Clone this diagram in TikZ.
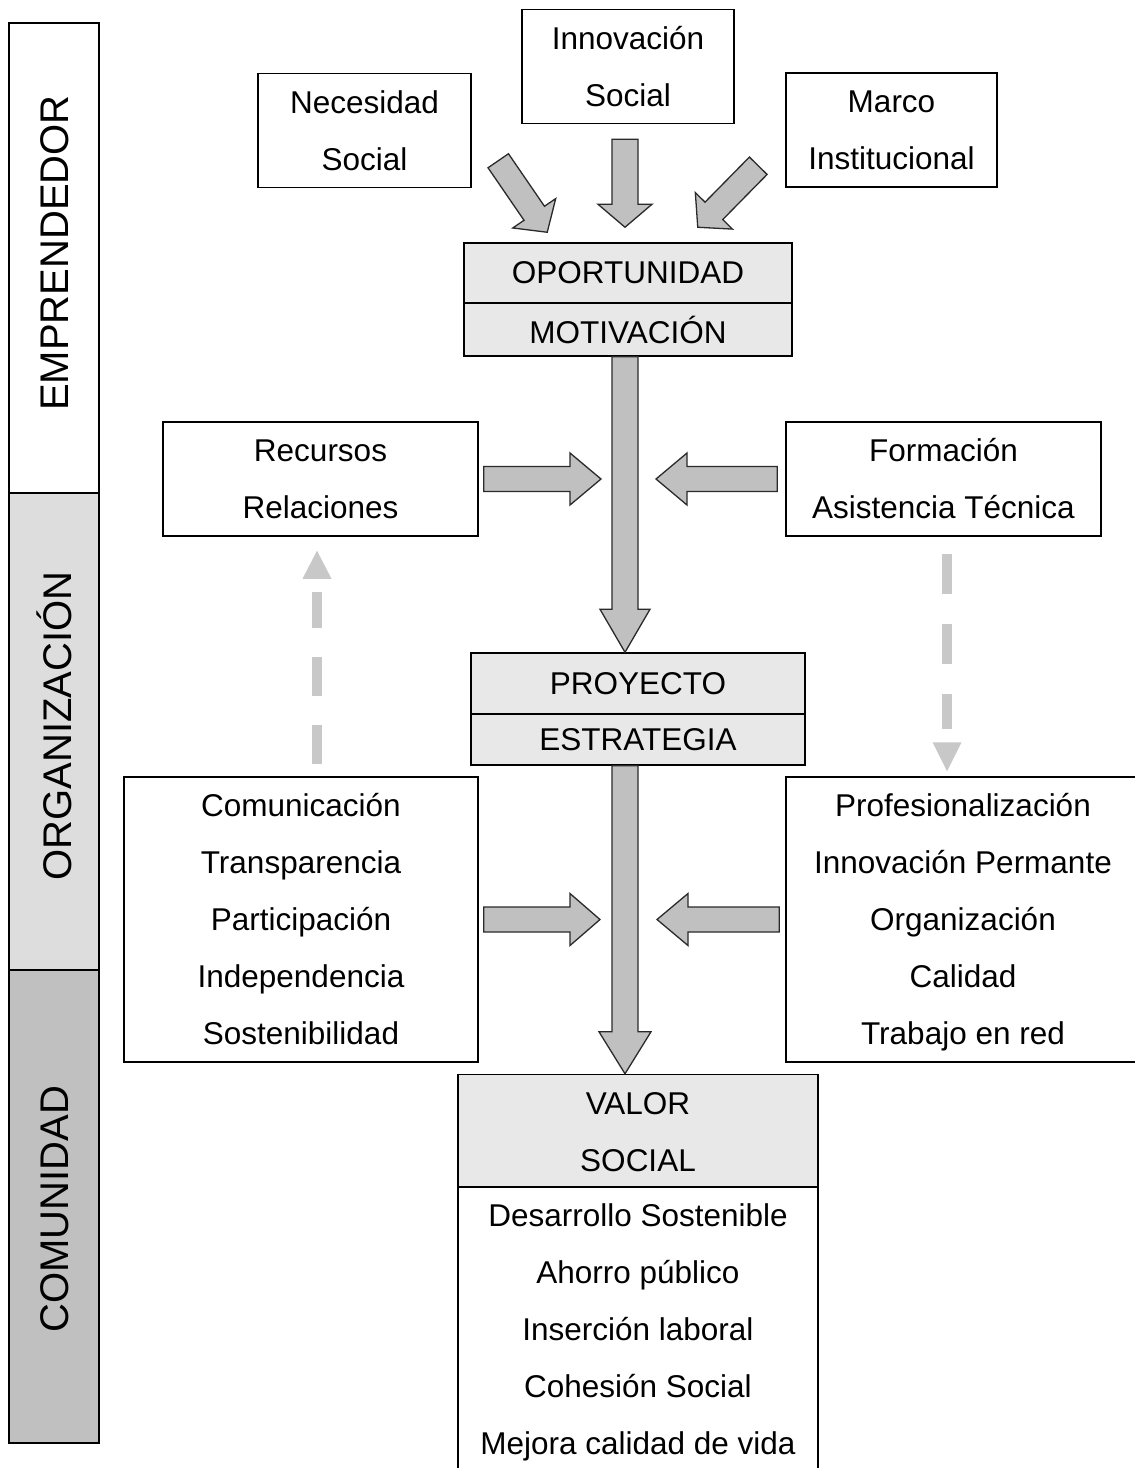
\documentclass[tikz,border=0pt]{standalone}
\usepackage{fontspec}
\setmainfont{Liberation Sans}
\usetikzlibrary{calc}

\definecolor{arrowfill}{HTML}{C0C0C0}
\definecolor{arrowline}{HTML}{2A2A2A}
\definecolor{headfill}{HTML}{E8E8E8}
\definecolor{orgfill}{HTML}{DDDDDD}
\definecolor{comfill}{HTML}{C0C0C0}
\definecolor{dashgray}{HTML}{C8C8C8}

% block arrow: #1 tail, #2 tip, #3 half shaft width, #4 half head width, #5 head length
\newcommand\blockarrow[5]{%
  \coordinate (ba-h) at ($(#2)!#5!(#1)$);
  \draw[barrow] ($(#1)!#3!90:(#2)$) -- ($(ba-h)!#3!90:(#2)$) -- ($(ba-h)!#4!90:(#2)$)
    -- (#2) -- ($(ba-h)!#4!-90:(#2)$) -- ($(ba-h)!#3!-90:(#2)$) -- ($(#1)!#3!-90:(#2)$) -- cycle;}

\tikzset{
  box/.style={draw=black, line width=1.5pt, inner sep=0pt, align=center, fill=white,
    font=\fontsize{31.5}{57}\selectfont},
  hdr/.style={box, fill=headfill},
  band/.style={draw=black, line width=1.5pt, inner sep=0pt},
  bandlabel/.style={rotate=90, inner sep=0pt, font=\fontsize{40}{48}\selectfont},
  barrow/.style={fill=arrowfill, draw=arrowline, line width=1.3pt, line join=miter},
  dashline/.style={draw=dashgray, line width=10pt},
}

\begin{document}
\begin{tikzpicture}[x=1pt, y=-1pt]
\clip (0,0) rectangle (1135,1468);
\fill[white] (0,0) rectangle (1135,1468);

% side bands
\node[band, fill=white,   minimum width=90, minimum height=470] (bemp) at (54,258) {};
\node[band, fill=orgfill, minimum width=90, minimum height=477] (borg) at (54,731.5) {};
\node[band, fill=comfill, minimum width=90, minimum height=473] (bcom) at (54,1206.5) {};
\node[bandlabel] (lemp) at (54.5,253) {EMPRENDEDOR};
\node[bandlabel] (lorg) at (54.5,726) {ORGANIZACIÓN};
\node[bandlabel] (lcom) at (54.5,1209) {COMUNIDAD};

% top inputs
\node[box, minimum width=213, minimum height=113] (nec) at (364.5,130.5) {\strut Necesidad\\Social\strut};
\node[box, minimum width=212, minimum height=113] (innov) at (628,66.5) {\strut Innovación\\Social\strut};
\node[box, minimum width=211, minimum height=112] (marco) at (891.5,130) {\strut Marco\\Institucional\strut};

% opportunity
\node[hdr, minimum width=328, minimum height=60] (oport) at (628,273) {OPORTUNIDAD};
\node[hdr, minimum width=328, minimum height=53] (motiv) at (628,329.5) {MOTIVACIÓN};

% side inputs
\node[box, minimum width=315, minimum height=112] (rec) at (320.5,479) {\strut Recursos\\Relaciones\strut};
\node[box, minimum width=315, minimum height=112] (form) at (943.5,479) {\strut Formación\\Asistencia Técnica\strut};

% project
\node[hdr, minimum width=334, minimum height=61] (proy) at (638,683.5) {PROYECTO};
\node[hdr, minimum width=334, minimum height=51] (estr) at (638,739.5) {ESTRATEGIA};

% values
\node[box, minimum width=354, minimum height=283] (comm) at (301,919.5)
  {\strut Comunicación\\Transparencia\\Participación\\Independencia\\Sostenibilidad\strut};
\node[box, minimum width=354, minimum height=283] (prof) at (963,919.5)
  {\strut Profesionalización\\Innovación Permante\\Organización\\Calidad\\Trabajo en red\strut};

% social value
\node[hdr, minimum width=360, minimum height=113] (valor) at (638,1131.5) {\strut VALOR\\SOCIAL\strut};
\node[box, minimum width=360, minimum height=283] (valbody) at (638,1329.5)
  {\strut Desarrollo Sostenible\\Ahorro público\\Inserción laboral\\Cohesión Social\\Mejora calidad de vida\strut};

% arrow end points
\coordinate (axis) at (625,0);
\coordinate (tc-t) at ($(innov.south -| axis)+(0,15)$);
\coordinate (tc-h) at ($(oport.north -| axis)+(0,-15)$);
\coordinate (tl-t) at ($(nec.south east)+(26.5,-27.5)$);
\coordinate (tl-h) at ($(oport.north west)+(84,-10)$);
\coordinate (tr-t) at ($(marco.south west)+(-27,-22)$);
\coordinate (tr-h) at ($(oport.north east)+(-95,-15)$);
\coordinate (m1-t) at (motiv.south -| axis);
\coordinate (m1-h) at (proy.north -| axis);
\coordinate (m2-t) at (estr.south -| axis);
\coordinate (m2-h) at (valor.north -| axis);
\coordinate (r1l-t) at ($(rec.east)+(5,0)$);
\coordinate (r1l-h) at ($(rec.east -| axis)+(-24,0)$);
\coordinate (r1r-t) at ($(form.west)+(-8,0)$);
\coordinate (r1r-h) at ($(form.west -| axis)+(31,0)$);
\coordinate (r2l-t) at ($(comm.east)+(5,0)$);
\coordinate (r2l-h) at ($(comm.east -| axis)+(-25,0)$);
\coordinate (r2r-t) at ($(prof.west)+(-6,0)$);
\coordinate (r2r-h) at ($(prof.west -| axis)+(32,0)$);

% block arrows
\blockarrow{tc-t}{tc-h}{13pt}{27pt}{23pt}
\blockarrow{tl-t}{tl-h}{12.4pt}{26pt}{23pt}
\blockarrow{tr-t}{tr-h}{12.4pt}{26pt}{23pt}
\blockarrow{m1-t}{m1-h}{13pt}{25pt}{43pt}
\blockarrow{m2-t}{m2-h}{13pt}{26pt}{42pt}
\blockarrow{r1l-t}{r1l-h}{12.5pt}{26pt}{31pt}
\blockarrow{r1r-t}{r1r-h}{12.5pt}{26pt}{31pt}
\blockarrow{r2l-t}{r2l-h}{12.5pt}{26pt}{30pt}
\blockarrow{r2r-t}{r2r-h}{12.5pt}{26pt}{31pt}

% dashed feedback arrows
\coordinate (dl-b) at ($(comm.north)+(16,-12)$);
\coordinate (dl-tip) at ($(rec.south)+(-3.5,14)$);
\draw[dashline, dash pattern=on 39pt off 29pt] (dl-b) -- ($(dl-tip)+(0,41)$);
\fill[dashgray] ($(dl-tip)+(-14.5,28)$) -- ($(dl-tip)+(14.5,28)$) -- (dl-tip) -- cycle;

\coordinate (dr-t) at ($(form.south)+(3.5,17)$);
\coordinate (dr-tip) at ($(prof.north)+(-16,-5)$);
\draw[dashline, dash pattern=on 40pt off 30pt] (dr-t) -- ($(dr-tip)+(0,-42)$);
\fill[dashgray] ($(dr-tip)+(-14.5,-29)$) -- ($(dr-tip)+(14.5,-29)$) -- (dr-tip) -- cycle;
\end{tikzpicture}
\end{document}
